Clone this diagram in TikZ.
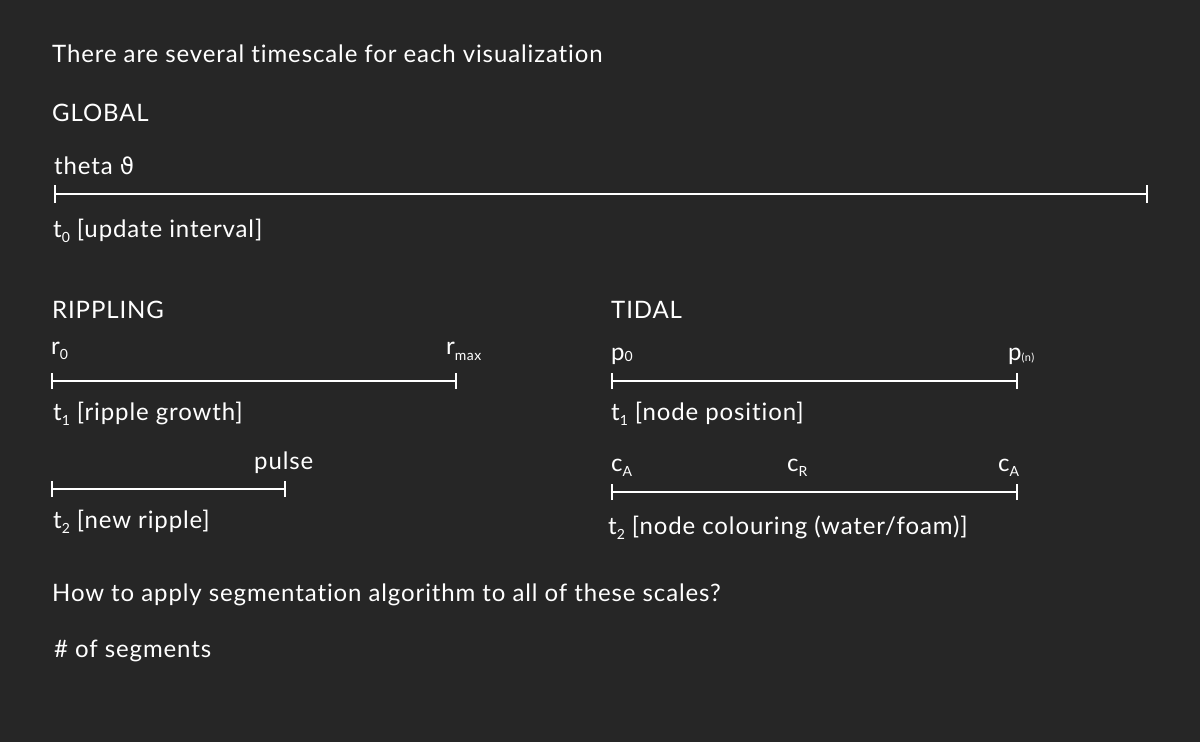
\documentclass[tikz,border=0pt]{standalone}
\usepackage{fontspec}
\setmainfont{Lato}[LetterSpace=3.7,Ligatures=NoCommon]
\newfontfamily\dvfont{DejaVu Sans}
\definecolor{bg}{HTML}{262626}
\newcommand{\mysub}[2][-5pt]{\raisebox{#1}{\fontsize{14}{14}\selectfont #2}}
\begin{document}
\begin{tikzpicture}[x=1pt,y=-1pt,
  lbl/.style={anchor=base west,inner sep=0pt,text=white,font=\fontsize{24}{28}\selectfont},
  bar/.style={draw=white,line width=2.2pt},
  tick/.style={draw=white,line width=2.2pt}]
\fill[bg] (0,0) rectangle (1200,742);
\useasboundingbox (0,0) rectangle (1200,742);
\node[lbl] (title) at (52,62) {There are several timescale for each visualization};
\node[lbl] (global) at (52,121) {GLOBAL};
\node[lbl] (theta) at (54,174) {theta {\dvfont\fontsize{23}{24}\selectfont ϑ}};
\coordinate (g0) at (55,194);
\coordinate (g1) at (1147,194);
\draw[bar] (g0) -- (g1);
\draw[tick] ([yshift=-9pt]g0) -- ([yshift=9pt]g0);
\draw[tick] ([yshift=-9pt]g1) -- ([yshift=9pt]g1);
\node[lbl] (t0) at (53,237) {t\mysub{0} [update interval]};

\node[lbl] (rippling) at (52,318) {RIPPLING};
\node[lbl] (r0) at (51,354) {r\mysub{0}};
\node[lbl] (rmax) at (446,354) {r\mysub[-6pt]{max}};
\coordinate (ra) at (52,381);
\coordinate (rb) at (456,381);
\draw[bar] (ra) -- (rb);
\draw[tick] ([yshift=-8pt]ra) -- ([yshift=8pt]ra);
\draw[tick] ([yshift=-8pt]rb) -- ([yshift=8pt]rb);
\node[lbl] (t1r) at (53,420) {t\mysub{1} [ripple growth]};
\node[lbl] (pulse) at (254,469) {pulse};
\coordinate (pa) at (52,489);
\coordinate (pb) at (285,489);
\draw[bar] (pa) -- (pb);
\draw[tick] ([yshift=-8pt]pa) -- ([yshift=8pt]pa);
\draw[tick] ([yshift=-8pt]pb) -- ([yshift=8pt]pb);
\node[lbl] (t2r) at (53,528) {t\mysub{2} [new ripple]};

\node[lbl] (tidal) at (611,318) {TIDAL};
\node[lbl] (p0) at (611,360) {p\mysub[-1pt]{0}};
\node[lbl] (pn) at (1008,360) {p\mysub[-1pt]{\fontsize{11}{11}\selectfont(n)}};
\coordinate (ta) at (612,381);
\coordinate (tb) at (1017,381);
\draw[bar] (ta) -- (tb);
\draw[tick] ([yshift=-8pt]ta) -- ([yshift=8pt]ta);
\draw[tick] ([yshift=-8pt]tb) -- ([yshift=8pt]tb);
\node[lbl] (t1t) at (611,420) {t\mysub{1} [node position]};
\node[lbl] (ca1) at (611,471) {c\mysub{A}};
\node[lbl] (cr) at (787,471) {c\mysub{R}};
\node[lbl] (ca2) at (998,471) {c\mysub{A}};
\coordinate (ca) at (612,492);
\coordinate (cb) at (1017,492);
\draw[bar] (ca) -- (cb);
\draw[tick] ([yshift=-8pt]ca) -- ([yshift=8pt]ca);
\draw[tick] ([yshift=-8pt]cb) -- ([yshift=8pt]cb);
\node[lbl] (t2t) at (608,534) {t\mysub{2} [node colouring (water/foam)]};

\node[lbl] (how) at (52,601) {How to apply segmentation algorithm to all of these scales?};
\node[lbl] (seg) at (54,657) {\# of segments};
\end{tikzpicture}
\end{document}
